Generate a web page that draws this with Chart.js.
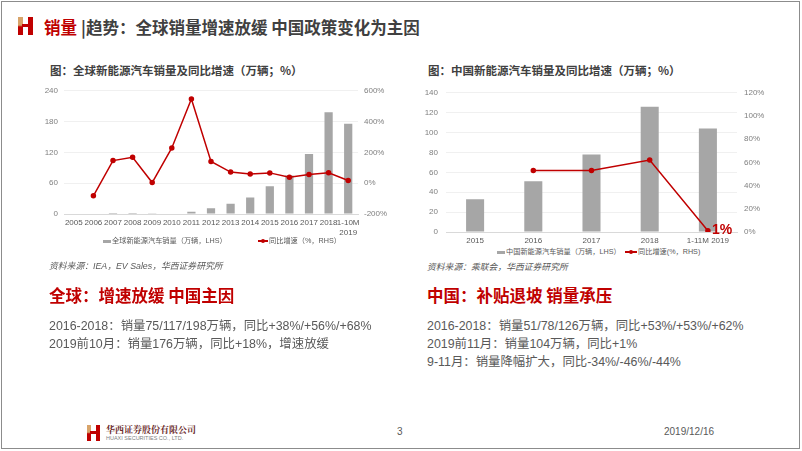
<!DOCTYPE html>
<html>
<head>
<meta charset="utf-8">
<script src="https://cdn.jsdelivr.net/npm/chart.js@4"></script>
<style>
  body { margin: 0; background: #fff; }
  #page { position: relative; width: 802px; height: 451px; overflow: hidden; background: #fff;
          font-family: "Noto Sans CJK SC", "Liberation Sans", sans-serif; }
  #frame { position: absolute; left: 1px; top: 1px; width: 797px; height: 446px; border: 1.5px solid #8c8c8c; }
  .t { position: absolute; white-space: nowrap; }
  .lat { font-family: "Liberation Sans", "Noto Sans CJK SC", sans-serif; }
  .red { color: #c00000; }
  .logo { position: absolute; }
  .logo div { position: absolute; }
  canvas { position: absolute; }
  .lg { position: absolute; white-space: nowrap; font-size: 7.2px; line-height: 8px; color: #595959;
        font-family: "Liberation Sans", "Noto Sans CJK SC", sans-serif; }
  .lg i { display: inline-block; vertical-align: middle; margin-right: 1px; }
</style>
</head>
<body>
<div id="page">
  <div id="frame"></div>

  <!-- header logo -->
  <div class="logo" style="left:18px;top:17px;width:15px;height:18px;">
    <div style="left:0;top:0;width:5px;height:18px;background:linear-gradient(#d8a46a 0%,#d8a46a 45%,#c00000 55%,#c00000 100%);"></div>
    <div style="left:10px;top:0;width:5px;height:18px;background:#c00000;"></div>
    <div style="left:4px;top:7px;width:7px;height:3px;background:#c00000;"></div>
  </div>
  <div class="t" style="left:44px;top:19px;font-size:16.5px;line-height:17px;font-weight:bold;">
    <span class="red">销量</span><span style="color:#404040;margin-left:4px;">|趋势：全球销量增速放缓 中国政策变化为主因</span>
  </div>

  <!-- left panel -->
  <div class="t" style="left:50px;top:64px;font-size:11.5px;line-height:12px;font-weight:bold;color:#404040;">图：全球新能源汽车销量及同比增速（万辆；%）</div>
  <canvas id="gChart" width="375" height="160" style="left:20px;top:80px;"></canvas>
  <div class="lg" style="left:103px;top:237px;"><i style="width:8px;height:3px;background:#a6a6a6;"></i>全球新能源汽车销量（万辆，LHS）</div>
  <div class="lg" style="left:258px;top:237px;"><i style="width:10px;height:1.5px;background:#c00000;position:relative;"><b style="position:absolute;left:3px;top:-1.5px;width:4px;height:4px;border-radius:2px;background:#c00000;"></b></i>同比增速（%，RHS）</div>
  <div class="t lat" style="left:49px;top:261px;font-size:8.8px;line-height:10px;font-style:italic;color:#595959;">资料来源：IEA，EV Sales，华西证券研究所</div>
  <div class="t red" style="left:49px;top:286px;font-size:16.5px;line-height:18px;font-weight:bold;">全球：增速放缓 中国主因</div>
  <div class="t lat" style="left:49px;top:317px;font-size:12.4px;line-height:18px;color:#595959;">2016-2018：销量75/117/198万辆，同比+38%/+56%/+68%<br>2019前10月：销量176万辆，同比+18%，增速放缓</div>

  <!-- right panel -->
  <div class="t" style="left:428px;top:64px;font-size:11.5px;line-height:12px;font-weight:bold;color:#404040;">图：中国新能源汽车销量及同比增速（万辆；%）</div>
  <canvas id="cChart" width="390" height="166" style="left:405px;top:80px;"></canvas>
  <div class="lg" style="left:497px;top:248px;"><i style="width:8px;height:3px;background:#a6a6a6;"></i>中国新能源汽车销量（万辆，LHS）</div>
  <div class="lg" style="left:625px;top:248px;"><i style="width:12px;height:1.5px;background:#c00000;position:relative;"><b style="position:absolute;left:4px;top:-1.5px;width:4px;height:4px;border-radius:2px;background:#c00000;"></b></i>同比增速(%，RHS)</div>
  <div class="t lat" style="left:427px;top:262px;font-size:8.8px;line-height:10px;font-style:italic;color:#595959;">资料来源：乘联会，华西证券研究所</div>
  <div class="t red" style="left:427px;top:286px;font-size:16.5px;line-height:18px;font-weight:bold;">中国：补贴退坡 销量承压</div>
  <div class="t lat" style="left:427px;top:317px;font-size:12.4px;line-height:18px;color:#595959;">2016-2018：销量51/78/126万辆，同比+53%/+53%/+62%<br>2019前11月：销量104万辆，同比+1%<br>9-11月：销量降幅扩大，同比-34%/-46%/-44%</div>

  <!-- footer -->
  <div class="logo" style="left:87px;top:425px;width:13px;height:16px;">
    <div style="left:0;top:0;width:4px;height:16px;background:linear-gradient(#d8a46a 0%,#d8a46a 45%,#c00000 55%,#c00000 100%);"></div>
    <div style="left:9px;top:0;width:4px;height:16px;background:#c00000;"></div>
    <div style="left:3px;top:6px;width:7px;height:3px;background:#c00000;"></div>
  </div>
  <div class="t" style="left:106px;top:425px;font-size:9px;line-height:9px;font-weight:bold;color:#6b2b2b;font-family:'Noto Serif CJK SC','Noto Sans CJK SC',serif;">华西证券股份有限公司</div>
  <div class="t" style="left:106px;top:435px;font-size:5.5px;line-height:6px;color:#7f7f7f;font-family:'Liberation Sans',sans-serif;">HUAXI SECURITIES CO., LTD.</div>
  <div class="t" style="left:397px;top:426px;font-size:10px;line-height:11px;color:#595959;font-family:'Liberation Sans',sans-serif;">3</div>
  <div class="t" style="left:664px;top:426px;font-size:10px;line-height:11px;color:#595959;font-family:'Liberation Sans',sans-serif;">2019/12/16</div>
</div>

<script>
// global NEV sales (万辆) and yoy growth (%)
const gYears = ['2005', '2006', '2007', '2008', '2009', '2010', '2011', '2012', '2013', '2014', '2015', '2016', '2017', '2018', ['1-10M', '2019']];
const gSales = [0, 0, 0.1, 0.2, 0.5, 1, 4.5, 11, 20, 32, 54, 75, 117, 198, 176];
const gGrowth = [null, -82, 147, 168, 4, 229, 547, 141, 72, 59, 67, 38, 56, 68, 18];

// china NEV sales (万辆) and yoy growth (%)
const cYears = ['2015', '2016', '2017', '2018', '1-11M 2019'];
const cSales = [33, 51, 78, 126, 104];
const cGrowth = [null, 53, 53, 62, 1];

const RED = '#c00000';
const GREY_BAR = '#a6a6a6';
const tickFont = {family: 'Liberation Sans', size: 8};

// draws the "1%" label next to the last growth point
const lastLabel = {
  id: 'lastLabel',
  afterDatasetsDraw(chart, args, opts) {
    if (!opts.text) return;
    const meta = chart.getDatasetMeta(1);
    const pt = meta.data[meta.data.length - 1];
    const ctx = chart.ctx;
    ctx.save();
    ctx.fillStyle = RED;
    ctx.font = 'bold 14px "Liberation Sans"';
    ctx.textBaseline = 'middle';
    ctx.fillText(opts.text, pt.x + 4, pt.y - 1);
    ctx.restore();
  }
};

function makeChart(id, labels, sales, growth, cfg) {
  return new Chart(document.getElementById(id), {
    type: 'bar',
    plugins: [lastLabel],
    data: {
      labels: labels,
      datasets: [{
        type: 'bar',
        data: sales,
        backgroundColor: GREY_BAR,
        barPercentage: cfg.barPct,
        categoryPercentage: 1,
        yAxisID: 'yL',
        order: 2
      }, {
        type: 'line',
        data: growth,
        borderColor: RED,
        backgroundColor: RED,
        borderWidth: 1.5,
        pointRadius: 2,
        pointBackgroundColor: RED,
        tension: 0,
        spanGaps: false,
        yAxisID: 'yR',
        order: 1
      }]
    },
    options: {
      responsive: false,
      animation: false,
      devicePixelRatio: 1,
      layout: {padding: {top: 7, left: 0, right: 0, bottom: 0}},
      plugins: {legend: {display: false}, tooltip: {enabled: false}, lastLabel: {text: cfg.lastText}},
      scales: {
        x: {
          grid: {display: false, drawTicks: false},
          border: {color: '#d9d9d9'},
          ticks: {font: tickFont, color: '#595959', maxRotation: 0, autoSkip: false, padding: cfg.xPad},
          afterFit: s => { s.height = cfg.xH; }
        },
        yL: {
          position: 'left',
          min: 0, max: cfg.lMax,
          grid: {color: '#f0f0f0', drawTicks: false},
          border: {display: false},
          ticks: {font: tickFont, color: '#7f7f7f', stepSize: cfg.lStep, padding: cfg.lPad},
          afterFit: s => { s.width = cfg.lW; }
        },
        yR: {
          position: 'right',
          min: cfg.rMin, max: cfg.rMax,
          grid: {display: false, drawTicks: false},
          border: {display: false},
          ticks: {font: tickFont, color: '#7f7f7f', stepSize: cfg.rStep, padding: cfg.rPad, callback: v => v + '%'},
          afterFit: s => { s.width = cfg.rW; }
        }
      }
    }
  });
}

makeChart('gChart', gYears, gSales, gGrowth, {
  barPct: 0.42, lMax: 240, lStep: 60, rMin: -200, rMax: 600, rStep: 200,
  lW: 44, rW: 37, lPad: 6, rPad: 6, xH: 26, xPad: 4, lastText: ''
});

makeChart('cChart', cYears, cSales, cGrowth, {
  barPct: 0.31, lMax: 140, lStep: 20, rMin: 0, rMax: 120, rStep: 20,
  lW: 41, rW: 58, lPad: 8, rPad: 7, xH: 14, xPad: 4, lastText: '1%'
});
</script>
</body>
</html>
